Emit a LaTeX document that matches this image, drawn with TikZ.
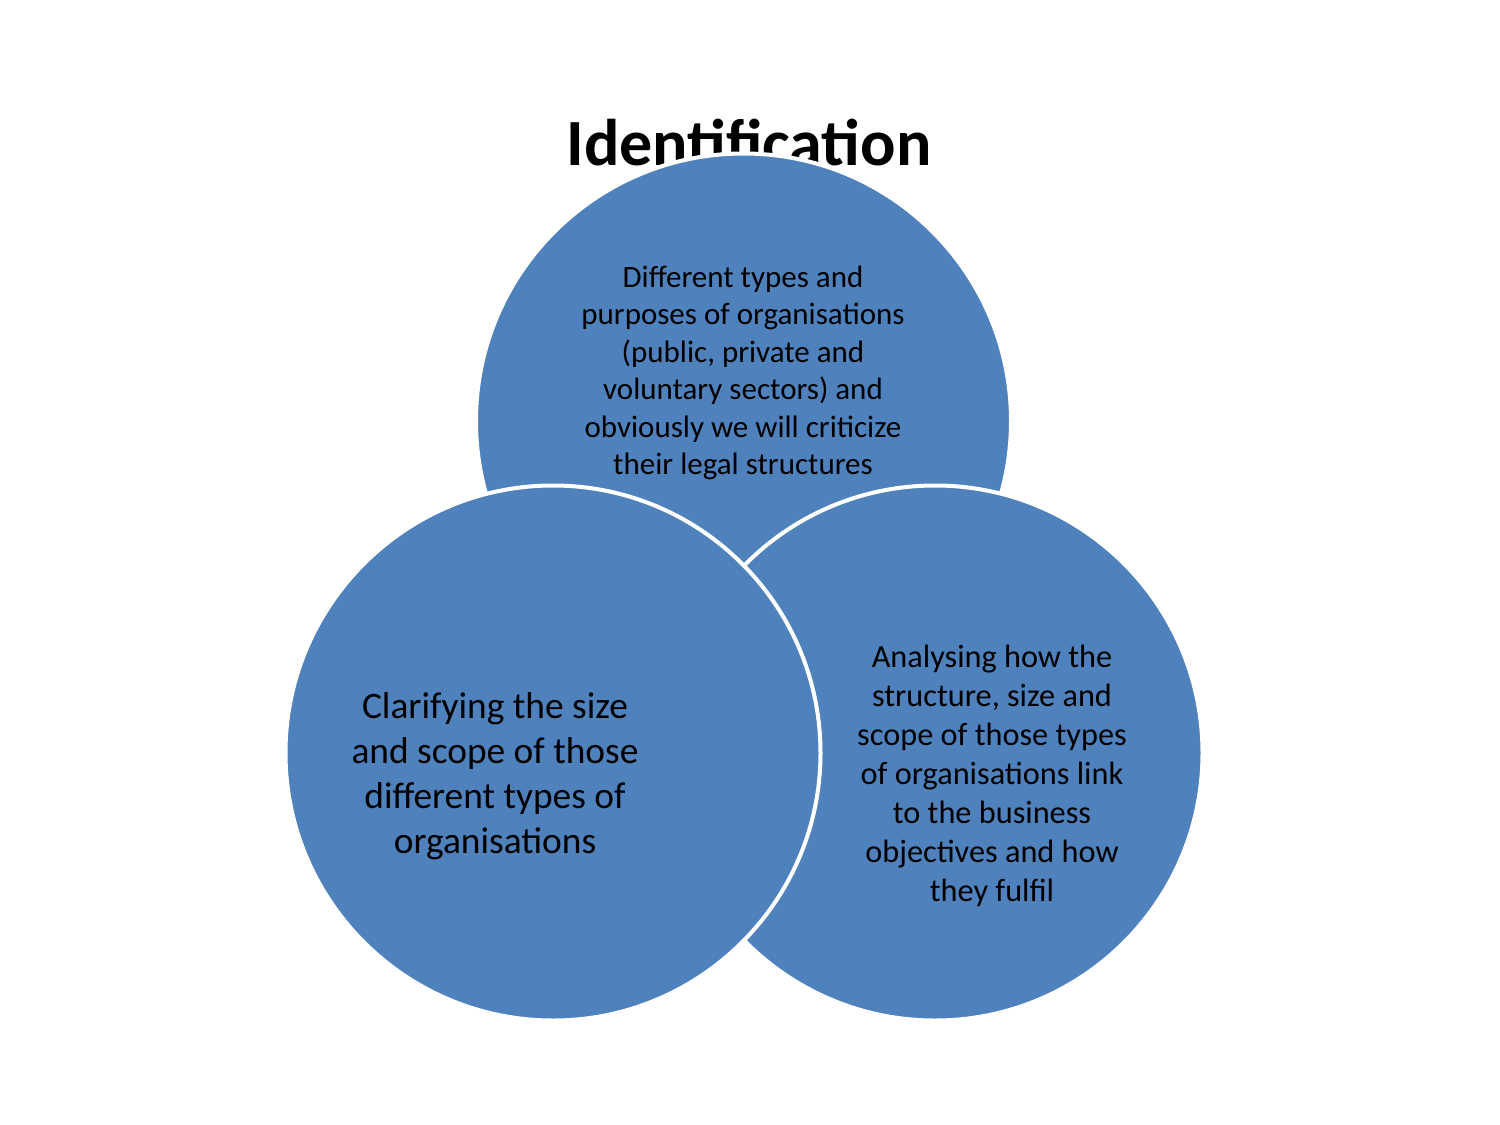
\documentclass[tikz,border=0pt]{standalone}
\usepackage{fontspec}
\setmainfont{Carlito}
\definecolor{venn}{HTML}{4F81BD}
\begin{document}
\begin{tikzpicture}[x=0.5pt,y=-0.5pt,
  vcirc/.style={circle,fill=venn,draw=white,line width=2pt,inner sep=0pt,outer sep=0pt,minimum size=535pt*0.5},
  vtext/.style={align=center,text=black}]
\useasboundingbox[fill=white] (0,0) rectangle (1500,1125);
\node[anchor=base,font=\fontsize{33}{40}\selectfont\bfseries] (title) at (749,165) {Identification};
\node[vcirc] (top) at (743.5,421) {};
\node[vcirc] (right) at (935,753) {};
\node[vcirc] (left) at (553,753) {};
\node[vtext,font=\fontsize{15.5}{18.75}\selectfont] (ttop) at (743,373) {Different types and\\purposes of organisations\\(public, private and\\voluntary sectors) and\\obviously we will criticize\\their legal structures};
\node[vtext,font=\fontsize{18.7}{22.5}\selectfont] (tleft) at (495,776) {Clarifying the size\\and scope of those\\different types of\\organisations};
\node[vtext,font=\fontsize{16.15}{19.5}\selectfont] (tright) at (992,776) {Analysing how the\\structure, size and\\scope of those types\\of organisations link\\to the business\\objectives and how\\they fulfil};
\end{tikzpicture}
\end{document}
